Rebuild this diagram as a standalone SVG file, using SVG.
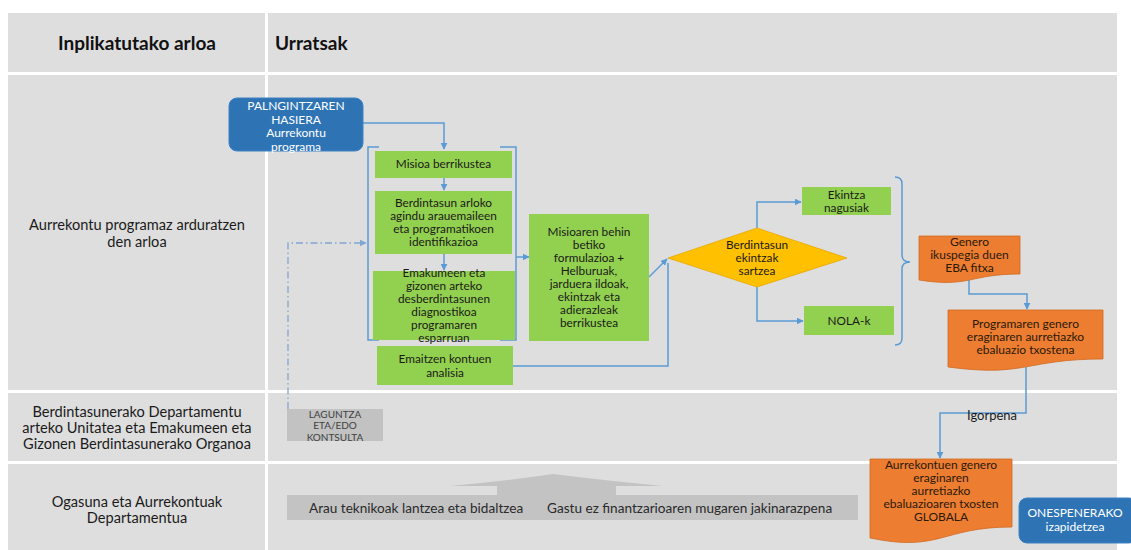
<svg xmlns="http://www.w3.org/2000/svg" width="1131" height="550" viewBox="0 0 1131 550">
<defs>
<style>
text{font-family:Lato,"Open Sans","Liberation Sans",sans-serif;}
.cell{fill:#dedede;}
.hdr{font-size:19px;font-weight:bold;fill:#111;}
.lbl{font-size:14.6px;fill:#1a1a1a;text-anchor:middle;}
.g{fill:#92d050;}
.gt{font-size:11.8px;fill:#1a1a1a;text-anchor:middle;}
.bt{font-size:12px;fill:#fff;text-anchor:middle;}
.ot{font-size:12px;fill:#2a1a0a;text-anchor:middle;}
.org{fill:#ed7d31;stroke:#d0691f;stroke-width:0.8;}
.blue{fill:#2e74b5;stroke:#3d82c4;stroke-width:1;}
.con{fill:none;stroke:#5b9bd5;stroke-width:1.5;}
.dd{fill:none;stroke:#7fa6d4;stroke-width:1.3;stroke-dasharray:7 3 1.5 3;}
</style>
<marker id="ar" viewBox="0 0 10 10" refX="9" refY="5" markerWidth="7" markerHeight="7" markerUnits="userSpaceOnUse" orient="auto">
<path d="M0,0 L10,5 L0,10 Z" fill="#5b9bd5"/>
</marker>
<marker id="ar2" viewBox="0 0 10 10" refX="9" refY="5" markerWidth="7" markerHeight="7" markerUnits="userSpaceOnUse" orient="auto">
<path d="M0,0 L10,5 L0,10 Z" fill="#7fa6d4"/>
</marker>
</defs>
<rect width="1131" height="550" fill="#ffffff"/>
<g id="table">
<rect class="cell" x="8" y="13" width="257" height="59"/>
<rect class="cell" x="268" y="13" width="849" height="59"/>
<rect class="cell" x="8" y="75" width="257" height="315"/>
<rect class="cell" x="268" y="75" width="849" height="315"/>
<rect class="cell" x="8" y="393" width="257" height="68"/>
<rect class="cell" x="268" y="393" width="849" height="68"/>
<rect class="cell" x="8" y="464" width="257" height="86"/>
<rect class="cell" x="268" y="464" width="849" height="86"/>
<text class="hdr" x="137" y="50" text-anchor="middle">Inplikatutako arloa</text>
<text class="hdr" x="275" y="50">Urratsak</text>
<text class="lbl" x="137" y="230">Aurrekontu programaz arduratzen</text>
<text class="lbl" x="137" y="247">den arloa</text>
<text class="lbl" x="137" y="416.5">Berdintasunerako Departamentu</text>
<text class="lbl" x="137" y="432.5">arteko Unitatea eta Emakumeen eta</text>
<text class="lbl" x="137" y="448.5">Gizonen Berdintasunerako Organoa</text>
<text class="lbl" x="137" y="507">Ogasuna eta Aurrekontuak</text>
<text class="lbl" x="137" y="523">Departamentua</text>
</g>
<g id="connectors">
<path class="con" d="M379,147 H368 V340 H379"/>
<path class="con" d="M500,147 H516 V340 H500"/>
<path class="con" d="M895,177 Q902,177 902,184 V255 Q902,262 910,262 Q902,262 902,269 V338 Q902,345 895,345"/>
<path class="con" d="M363,123 H444 V149" marker-end="url(#ar)"/>
<path class="con" d="M444,178 V190" marker-end="url(#ar)"/>
<path class="con" d="M444,254 V270" marker-end="url(#ar)"/>
<path class="con" d="M516,257 H529" marker-end="url(#ar)"/>
<path class="con" d="M649,277 L667,259" marker-end="url(#ar)"/>
<path class="con" d="M513,366 H668 V263"/>
<path class="con" d="M757,228 V202 H801" marker-end="url(#ar)"/>
<path class="con" d="M757,287 V321 H803" marker-end="url(#ar)"/>
<path class="con" d="M969,280 V294 H1027 V309" marker-end="url(#ar)"/>
<path class="con" d="M1026,367 V413 H940 V458" marker-end="url(#ar)"/>
<path class="dd" d="M288,409 V243 H366" marker-end="url(#ar2)"/>
<text x="992" y="420" font-size="13" fill="#1a1a1a" text-anchor="middle">Igorpena</text>
</g>
<g id="start">
<rect class="blue" x="229" y="98" width="134" height="53" rx="8"/>
<text class="bt" x="296" y="110">PALNGINTZAREN</text>
<text class="bt" x="296" y="123.5">HASIERA</text>
<text class="bt" x="296" y="137">Aurrekontu</text>
<text class="bt" x="296" y="150.5">programa</text>
</g>
<g id="misioa">
<rect class="g" x="375" y="151" width="137" height="27"/>
<text class="gt" x="443.5" y="168">Misioa berrikustea</text>
</g>
<g id="berdintasun">
<rect class="g" x="375" y="191" width="137" height="63"/>
<text class="gt" x="443.5" y="207">Berdintasun arloko</text>
<text class="gt" x="443.5" y="220">agindu arauemaileen</text>
<text class="gt" x="443.5" y="233">eta programatikoen</text>
<text class="gt" x="443.5" y="246">identifikazioa</text>
</g>
<g id="emakumeen">
<rect class="g" x="373" y="271" width="142" height="69"/>
<text class="gt" x="444" y="277">Emakumeen eta</text>
<text class="gt" x="444" y="290">gizonen arteko</text>
<text class="gt" x="444" y="303">desberdintasunen</text>
<text class="gt" x="444" y="316">diagnostikoa</text>
<text class="gt" x="444" y="329">programaren</text>
<text class="gt" x="444" y="342">esparruan</text>
</g>
<g id="emaitzen">
<rect class="g" x="377" y="346" width="136" height="39"/>
<text class="gt" x="445" y="363">Emaitzen kontuen</text>
<text class="gt" x="445" y="377">analisia</text>
</g>
<g id="misioaren">
<rect class="g" x="529" y="214" width="120" height="127"/>
<text class="gt" x="589" y="236">Misioaren behin</text>
<text class="gt" x="589" y="249">betiko</text>
<text class="gt" x="589" y="262">formulazioa +</text>
<text class="gt" x="589" y="275">Helburuak,</text>
<text class="gt" x="589" y="288">jarduera ildoak,</text>
<text class="gt" x="589" y="301">ekintzak eta</text>
<text class="gt" x="589" y="314">adierazleak</text>
<text class="gt" x="589" y="327">berrikustea</text>
</g>
<g id="decision">
<path d="M668,258 L757,228 L847,258 L757,287 Z" fill="#ffc000" stroke="#e8a800" stroke-width="0.8"/>
<text class="gt" x="757" y="249" font-size="12">Berdintasun</text>
<text class="gt" x="757" y="262" font-size="12">ekintzak</text>
<text class="gt" x="757" y="275" font-size="12">sartzea</text>
</g>
<g id="ekintza">
<rect class="g" x="802" y="187" width="89" height="28"/>
<text class="gt" x="846.5" y="199">Ekintza</text>
<text class="gt" x="846.5" y="212">nagusiak</text>
</g>
<g id="nola">
<rect class="g" x="804" y="306" width="90" height="29"/>
<text class="gt" x="849" y="325">NOLA-k</text>
</g>
<g id="genero">
<path class="org" d="M919,236 H1020 V274 C969.5,274 969.5,288 919,280 Z"/>
<text class="ot" x="969.5" y="246" font-size="11.5">Genero</text>
<text class="ot" x="969.5" y="259" font-size="11.5">ikuspegia duen</text>
<text class="ot" x="969.5" y="272" font-size="11.5">EBA fitxa</text>
</g>
<g id="programaren">
<path class="org" d="M948,310 H1103 V359 C1025.5,359 1025.5,377.5 948,367 Z"/>
<text class="ot" x="1025.5" y="328">Programaren genero</text>
<text class="ot" x="1025.5" y="341">eraginaren aurretiazko</text>
<text class="ot" x="1025.5" y="354">ebaluazio txostena</text>
</g>
<g id="laguntza">
<rect x="287" y="409" width="96" height="32" fill="#c2c2c2"/>
<text x="335" y="417.5" font-size="10" fill="#404040" text-anchor="middle">LAGUNTZA</text>
<text x="335" y="429" font-size="10" fill="#404040" text-anchor="middle">ETA/EDO</text>
<text x="335" y="440.5" font-size="10" fill="#404040" text-anchor="middle">KONTSULTA</text>
</g>
<g id="arau">
<path d="M450,486 Q505,481 553,474 Q610,481 663,486 H616 V495 H497 V486 Z" fill="#c3c3c3"/>
<rect x="287" y="495" width="571" height="25" fill="#c3c3c3"/>
<text x="309" y="513" font-size="13.6" fill="#2a2a2a">Arau teknikoak lantzea eta bidaltzea</text>
<text x="547" y="513" font-size="13.6" fill="#2a2a2a">Gastu ez finantzarioaren mugaren jakinarazpena</text>
</g>
<g id="aurrekontuen">
<path class="org" d="M870,459 H1012 V527 C941,527 941,552.6 870,538 Z"/>
<text class="ot" x="941" y="469">Aurrekontuen genero</text>
<text class="ot" x="941" y="482">eraginaren</text>
<text class="ot" x="941" y="495">aurretiazko</text>
<text class="ot" x="941" y="508">ebaluazioaren txosten</text>
<text class="ot" x="941" y="521">GLOBALA</text>
</g>
<g id="onespenerako">
<rect class="blue" x="1019" y="498" width="118" height="45" rx="8"/>
<text class="bt" x="1075" y="517" font-size="13">ONESPENERAKO</text>
<text class="bt" x="1075" y="531" font-size="13">izapidetzea</text>
</g>
</svg>
